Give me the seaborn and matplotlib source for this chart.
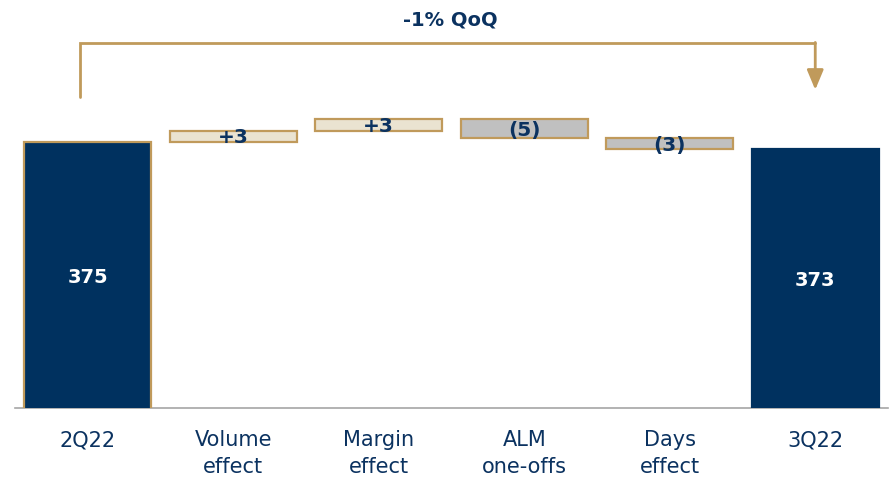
import pandas as pd
import matplotlib
matplotlib.use("Agg")
import matplotlib.pyplot as plt
import seaborn as sns

categories = ["2Q22", "Volume\neffect", "Margin\neffect", "ALM\none-offs", "Days\neffect", "3Q22"]
changes = [375, 3, 3, -5, -3, 373]
labels = ["375", "+3", "+3", "(5)", "(3)", "373"]
kinds = ["total", "step", "step", "step", "step", "total"]
change_text = "-1% QoQ"

NAVY = "#00315F"
TEXT = "#0B3260"
GOLD = "#C09A5B"
UP = "#EAE3D1"
DOWN = "#C0C0C0"

# waterfall table
rows = []
level = 0
for cat, val, lab, kind in zip(categories, changes, labels, kinds):
    if kind == "total":
        bottom, height, level = 0, val, val
        color = NAVY
    else:
        bottom = level if val > 0 else level + val
        height = abs(val)
        level += val
        color = UP if val > 0 else DOWN
    rows.append(dict(cat=cat, bottom=bottom, height=height, label=lab, kind=kind, color=color))
df = pd.DataFrame(rows)

sns.set_style("white")
plt.rcParams['font.family'] = ['DejaVu Sans']

fig = plt.figure(figsize=(8.95, 4.82), dpi=100)
ax = fig.add_axes([15 / 895, 74 / 482, 873 / 895, 408 / 482])

y_lo = 303
ax.bar(df.index, df["height"], bottom=df["bottom"], width=0.87, color=df["color"],
       edgecolor=[GOLD if k == "step" or i == 0 else NAVY for i, k in enumerate(df["kind"])],
       linewidth=1.6, zorder=3)

for i, r in df.iterrows():
    if r["kind"] == "total":
        ax.text(i, y_lo + (r["height"] - y_lo) * 0.5 - 0.6, r["label"], ha="center", va="center",
                color="white", fontsize=14, fontweight="bold", zorder=4)
    else:
        ax.text(i, r["bottom"] + r["height"] / 2 - 0.5, r["label"], ha="center", va="center",
                color=TEXT, fontsize=14.5, fontweight="bold", zorder=4)

ax.set_xlim(-0.5, len(categories) - 0.5)
ax.set_ylim(y_lo, y_lo + 408 / 3.7)

# bracket with arrow
top = 401.6
x0, x1 = -0.05, len(categories) - 1
ax.plot([x0, x0, x1], [387, top, top], color=GOLD, lw=2, solid_joinstyle="miter", clip_on=False)
ax.annotate("", xy=(x1, 389), xytext=(x1, top + 0.2),
            arrowprops=dict(arrowstyle="-|>,head_length=1.2,head_width=0.5", color=GOLD, lw=2,
                            shrinkA=0, shrinkB=0))
ax.text((x0 + x1) / 2 + 0.02, 407.9, change_text, ha="center", va="center",
        color=TEXT, fontsize=14, fontweight="bold")

for s in ["top", "left", "right"]:
    ax.spines[s].set_visible(False)
ax.spines["bottom"].set_color("#A6A6A6")
ax.spines["bottom"].set_linewidth(1.2)
ax.set_yticks([])
ax.set_xticks(range(len(categories)))
ax.set_xticklabels(df["cat"], fontsize=15, color=TEXT, linespacing=1.45)
ax.set_xticks([i - 0.5 for i in range(len(categories) + 1)], minor=True)
ax.tick_params(axis="x", which="major", length=0, pad=16)
ax.tick_params(axis="x", which="minor", length=8, width=1.2, color="#A6A6A6", direction="out")
for t in ax.get_xticklabels():
    t.set_verticalalignment("top")

fig.savefig("out.png", dpi=100)
